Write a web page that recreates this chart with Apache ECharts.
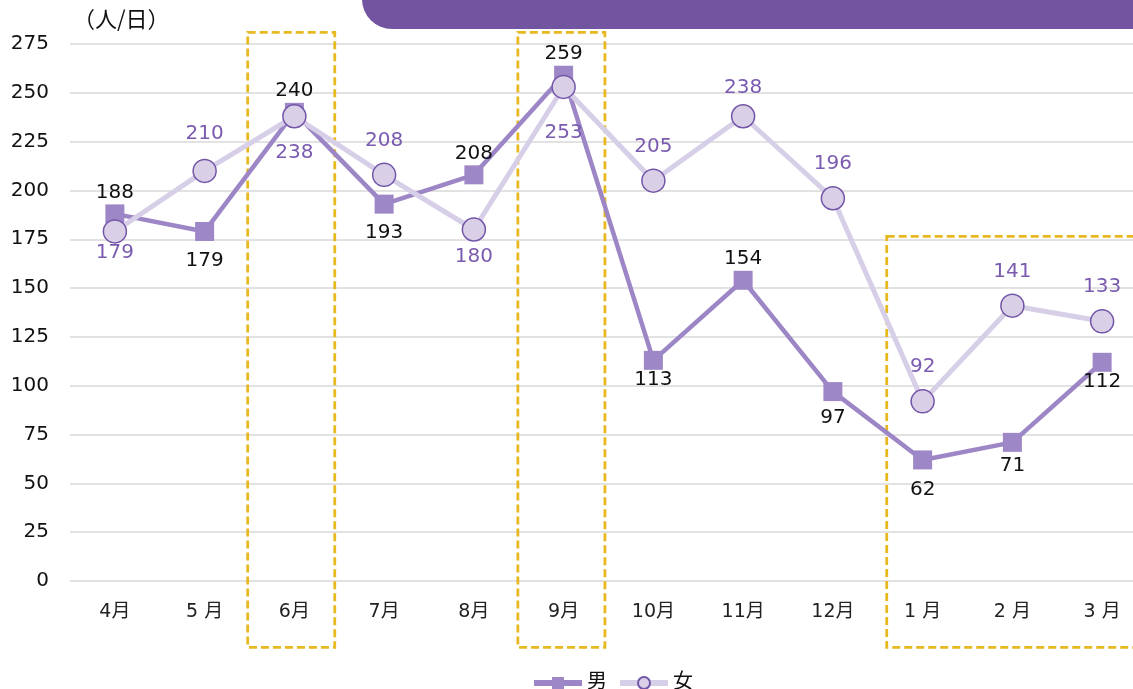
<!DOCTYPE html>
<html><head><meta charset="utf-8">
<script src="https://cdn.jsdelivr.net/npm/echarts@6/dist/echarts.min.js"></script>
<style>html,body{margin:0;padding:0;background:#fff;overflow:hidden}#c{width:1147px;height:689px}</style>
</head><body><div id="c"></div>
<script>
const categories = ['4月','5 月','6月','7月','8月','9月','10月','11月','12月','1 月','2 月','3 月'];
const male = [188,179,240,193,208,259,113,154,97,62,71,112];
const female = [179,210,238,208,180,253,205,238,196,92,141,133];
const yTicks = [0,25,50,75,100,125,150,175,200,225,250,275];
const unitLabel = '（人/日）';

const FONT = '"DejaVu Sans","Noto Sans CJK JP",sans-serif';
const maleBelow = [1,3,6,8,9,10,11];
const femaleBelow = [0,2,4,5];
const maleNudge = {1:6, 3:5, 6:-4, 8:3, 9:6, 11:-4};
const femaleNudge = {0:-6, 2:9, 5:19, 7:6, 1:-3};

const chart = echarts.init(document.getElementById('c'));
function lbl(below, color, distTop, distBottom, nudge) {
  return {show:true, position: below ? 'bottom' : 'top', distance: below ? distBottom : distTop,
    offset:[0, nudge || 0], color: color, fontSize: 20, fontFamily: FONT};
}
chart.setOption({
  animation:false,
  grid:{left:70, right:0, top:44, bottom:108},
  legend:{top:668, left:526, itemWidth:48, itemHeight:15, itemGap:10,
    lineStyle:{width:6},
    textStyle:{fontSize:20, fontFamily:FONT, color:'#111'},
    data:[{name:'男'},{name:'女'}]},
  xAxis:{type:'category', data:categories, boundaryGap:true,
    axisLine:{show:false}, axisTick:{show:false},
    axisLabel:{fontSize:19, fontFamily:FONT, color:'#222', margin:22}},
  yAxis:{type:'value', min:yTicks[0], max:yTicks[yTicks.length-1], interval:25,
    axisLabel:{fontSize:20, fontFamily:FONT, color:'#111', margin:21},
    splitLine:{lineStyle:{color:'#D9D9D9', width:1.5}},
    axisLine:{show:false}, axisTick:{show:false}},
  series:[
    {name:'女', type:'line', z:2,
     data: female.map((v,i)=>({value:v, label: lbl(femaleBelow.includes(i), '#7A5BB0', 12, 5, femaleNudge[i])})),
     symbol:'circle', symbolSize:23,
     lineStyle:{color:'#D7CEE7', width:5},
     itemStyle:{color:'#D9D0E8', borderColor:'#7356A8', borderWidth:1.5}},
    {name:'男', type:'line', z:1,
     data: male.map((v,i)=>({value:v, label: lbl(maleBelow.includes(i), '#111', 2, 4, maleNudge[i])})),
     symbol:'rect', symbolSize:19,
     lineStyle:{color:'#9D86C5', width:4.5},
     itemStyle:{color:'#9E87C6'}}
  ]
});

function drawOverlays(){
  const px = c => chart.convertToPixel({xAxisIndex:0}, c);
  const py = v => chart.convertToPixel({yAxisIndex:0}, v);
  const band = px(categories[1]) - px(categories[0]);
  const top1 = py(281), bottom = py(-34), top3 = py(176.5);
  const boxStyle = {fill:'none', stroke:'#E8B820', lineWidth:2.8, lineDash:[8,4]};
  const b6 = px(categories[2]), b9 = px(categories[5]), b1 = px(categories[9]);
  chart.setOption({graphic:[
    {type:'rect', shape:{x:362, y:-40, width:900, height:69, r:[0,0,0,30]}, style:{fill:'#7254A1'}, z:10},
    {type:'text', left:73, top:8, style:{text:unitLabel, fontSize:22, fontFamily:'"Noto Sans CJK JP",sans-serif', fill:'#111'}},
    {type:'rect', shape:{x:b6-band*0.52, y:top1, width:band*0.97, height:bottom-top1}, style:boxStyle, z:0},
    {type:'rect', shape:{x:b9-band*0.51, y:top1, width:band*0.97, height:bottom-top1}, style:boxStyle, z:0},
    {type:'rect', shape:{x:b1-band*0.4, y:top3, width:band*3, height:bottom-top3}, style:boxStyle, z:0}
  ]});
}
drawOverlays();
</script></body></html>
